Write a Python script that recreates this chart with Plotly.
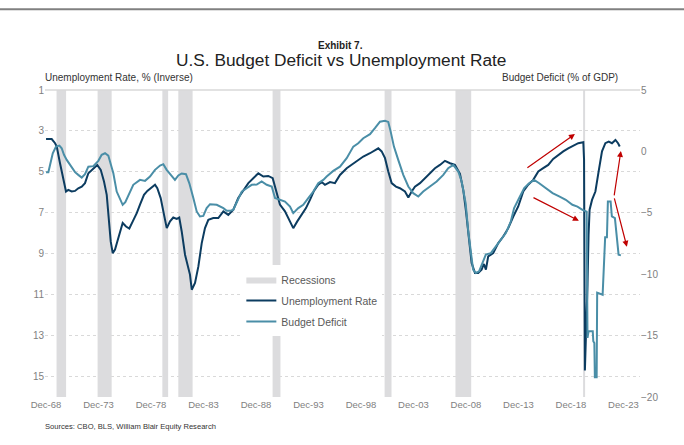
import plotly.graph_objects as go

# ---------------- data (decimal years) ----------------
unemp_years = [1968.92, 1969.46, 1969.78, 1969.94, 1970.25, 1970.5, 1970.82, 1971.04, 1971.36, 1971.68,
               1971.99, 1972.32, 1972.63, 1972.95, 1973.27, 1973.59, 1973.8, 1974.13, 1974.44, 1974.7,
               1974.92, 1975.08, 1975.27, 1975.49, 1975.71, 1975.97, 1976.22, 1976.54, 1976.85, 1977.18,
               1977.56, 1977.87, 1978.25, 1978.57, 1978.99, 1979.3, 1979.52, 1979.84, 1980.16, 1980.42,
               1980.73, 1981.04, 1981.37, 1981.61, 1981.84, 1982.16, 1982.63, 1982.8, 1983.11, 1983.43,
               1983.75, 1984.06, 1984.38, 1984.85, 1985.33, 1985.81, 1986.28, 1986.76, 1987.23, 1987.71,
               1988.19, 1988.66, 1989.14, 1989.62, 1990.09, 1990.51, 1990.82, 1991.2, 1991.68, 1992.09,
               1992.47, 1992.85, 1993.27, 1993.68, 1994.06, 1994.44, 1994.85, 1995.18, 1995.49, 1995.97,
               1996.44, 1996.92, 1997.56, 1998.19, 1998.66, 1999.14, 1999.78, 2000.25, 2000.57, 2000.89,
               2001.21, 2001.52, 2001.84, 2002.25, 2002.63, 2003.11, 2003.43, 2003.75, 2004.06, 2004.54,
               2005.02, 2005.49, 2005.97, 2006.44, 2006.92, 2007.4, 2007.87, 2008.35, 2008.67, 2008.92,
               2009.14, 2009.3, 2009.46, 2009.78, 2010.09, 2010.41, 2010.63, 2010.82, 2011.04, 2011.52,
               2012.0, 2012.47, 2012.95, 2013.43, 2013.9, 2014.38, 2014.85, 2015.33, 2015.81, 2016.28,
               2016.76, 2017.23, 2017.71, 2018.19, 2018.66, 2019.14, 2019.62, 2020.1, 2020.17, 2020.25,
               2020.37, 2020.5, 2020.6, 2020.7, 2020.93, 2021.25, 2021.56, 2021.88, 2022.2, 2022.52,
               2022.83, 2023.16, 2023.41, 2023.57]
unemp_rate = [3.4, 3.4, 3.6, 3.76, 4.58, 5.15, 5.96, 5.88, 5.96, 5.93,
              5.8, 5.72, 5.55, 5.07, 4.9, 4.74, 4.66, 4.9, 5.47, 6.12,
              7.42, 8.4, 8.97, 8.8, 8.4, 7.9, 7.5, 7.67, 7.77, 7.42,
              7.02, 6.6, 6.12, 5.93, 5.76, 5.63, 5.8, 6.28, 7.1, 7.75,
              7.42, 7.23, 7.3, 7.23, 7.9, 9.05, 10.02, 10.76, 10.43, 9.62,
              8.48, 7.75, 7.34, 7.26, 7.26, 6.93, 7.1, 6.85, 6.28, 5.88,
              5.55, 5.31, 5.07, 5.23, 5.2, 5.31, 5.96, 6.6, 6.93, 7.34,
              7.75, 7.42, 7.1, 6.77, 6.37, 5.93, 5.63, 5.5, 5.63, 5.5,
              5.55, 5.15, 4.82, 4.58, 4.41, 4.25, 4.09, 3.93, 3.85, 4.0,
              4.33, 4.98, 5.55, 5.72, 5.8, 5.96, 6.25, 5.96, 5.72, 5.55,
              5.31, 5.07, 4.82, 4.66, 4.46, 4.58, 4.66, 5.1, 5.9, 6.9,
              8.0, 9.0, 9.45, 9.94, 9.94, 9.78, 9.5, 9.78, 9.13, 8.97,
              8.48, 8.16, 7.75, 7.18, 6.69, 5.96, 5.63, 5.39, 4.98, 4.82,
              4.66, 4.37, 4.17, 4.0, 3.85, 3.72, 3.6, 3.55, 4.4, 14.7,
              13.1, 10.5, 8.07, 6.85, 6.37, 5.96, 4.98, 4.0, 3.6, 3.52,
              3.6, 3.44, 3.6, 3.76]

deficit_years = [1968.92, 1969.14, 1969.3, 1969.56, 1969.87, 1970.19, 1970.41, 1970.63, 1970.89, 1971.37,
                 1971.68, 1971.99, 1972.32, 1972.63, 1972.95, 1973.42, 1973.9, 1974.22, 1974.54, 1974.85,
                 1975.08, 1975.33, 1975.65, 1975.97, 1976.22, 1976.47, 1976.76, 1977.23, 1977.87, 1978.35,
                 1978.82, 1979.3, 1979.78, 1980.09, 1980.41, 1980.89, 1981.2, 1981.52, 1981.84, 1982.25,
                 1982.57, 1982.95, 1983.27, 1983.58, 1983.9, 1984.22, 1984.54, 1985.18, 1985.81, 1986.13,
                 1986.44, 1986.76, 1987.08, 1987.56, 1988.03, 1988.51, 1988.99, 1989.46, 1989.94, 1990.42,
                 1990.73, 1991.2, 1991.68, 1992.16, 1992.47, 1992.95, 1993.42, 1993.9, 1994.38, 1994.85,
                 1995.33, 1995.65, 1996.28, 1996.92, 1997.56, 1998.19, 1998.66, 1999.14, 1999.78, 2000.25,
                 2000.73, 2001.21, 2001.52, 2001.75, 2002.06, 2002.47, 2002.95, 2003.43, 2003.9, 2004.38,
                 2004.85, 2005.49, 2006.13, 2006.76, 2007.23, 2007.71, 2008.19, 2008.51, 2008.89, 2009.14,
                 2009.37, 2009.6, 2009.86, 2010.17, 2010.49, 2010.81, 2011.29, 2011.76, 2012.24, 2012.72,
                 2013.19, 2013.51, 2013.99, 2014.47, 2014.94, 2015.42, 2015.9, 2016.54, 2017.17, 2017.8,
                 2018.43, 2019.06, 2019.54, 2020.02, 2020.42, 2020.5, 2020.6, 2021.0, 2021.05, 2021.15,
                 2021.2, 2021.37, 2021.42, 2021.94, 2022.0, 2022.18, 2022.35, 2022.44, 2022.7, 2022.82,
                 2023.11, 2023.27, 2023.46, 2023.68]
deficit_gdp = [-1.69, -1.69, -1.1, -0.15, 0.39, 0.47, 0.26, -0.28, -0.69, -1.24,
               -1.69, -1.91, -2.13, -1.86, -1.24, -1.2, -0.77, -0.28, -0.15, -0.34,
               -1.1, -1.78, -3.27, -3.94, -4.35, -4.13, -3.54, -2.72, -2.32, -2.4,
               -2.05, -1.5, -1.15, -1.04, -1.5, -1.96, -2.32, -1.96, -1.8, -1.86,
               -2.6, -3.8, -4.89, -5.3, -5.25, -4.62, -4.3, -4.35, -4.62, -4.84,
               -4.84, -4.75, -4.21, -3.27, -3.0, -2.72, -2.7, -2.45, -2.72, -2.86,
               -3.8, -3.94, -4.08, -4.49, -5.03, -4.62, -4.35, -3.8, -3.27, -2.59,
               -2.32, -2.05, -1.59, -1.24, -0.55, 0.39, 0.66, 1.07, 1.4, 1.89,
               2.42, 2.5, 2.4, 1.61, 0.39, -0.69, -1.91, -2.86, -3.4, -3.67,
               -3.27, -2.86, -2.45, -1.91, -1.37, -1.1, -1.64, -2.45, -4.21, -6.52,
               -8.14, -9.63, -9.9, -9.77, -9.09, -8.41, -8.28, -7.74, -7.2, -6.65,
               -5.71, -4.62, -3.8, -2.99, -2.59, -2.32, -2.59, -2.99, -3.4, -3.67,
               -3.94, -4.35, -4.49, -4.76, -4.9, -15.19, -14.65, -14.65, -15.46, -15.6,
               -18.39, -18.39, -11.5, -11.67, -10.6, -7.0, -7.0, -4.08, -4.08, -5.3,
               -5.44, -6.8, -8.41, -8.47]

recession_start = [1969.92, 1973.83, 1980.0, 1981.52, 1990.5, 2001.17, 2007.92, 2020.08]
recession_end = [1970.83, 1975.17, 1980.55, 1982.88, 1991.25, 2001.83, 2009.42, 2020.27]

tick_years = [1968, 1973, 1978, 1983, 1988, 1993, 1998, 2003, 2008, 2013, 2018, 2023]
tick_labels = ["Dec-68", "Dec-73", "Dec-78", "Dec-83", "Dec-88", "Dec-93",
               "Dec-98", "Dec-03", "Dec-08", "Dec-13", "Dec-18", "Dec-23"]

left_ticks = [1, 3, 5, 7, 9, 11, 13, 15]
right_ticks = [5, 0, -5, -10, -15, -20]

# arrows: (tail_x, tail_y, head_x, head_y) in years / unemployment units
arrows = [(2014.63, 4.85, 2019.3, 3.15),
          (2015.21, 6.22, 2019.68, 7.39),
          (2023.02, 6.22, 2023.68, 3.98),
          (2023.02, 6.22, 2024.25, 8.66)]

# ---------------- styling ----------------
FONT = "Arial, Liberation Sans, sans-serif"
DARK = "#0c3c60"
TEAL = "#4a8ea7"
GREY_BAND = "#dcdcde"
U_MIN, U_MAX = 1, 16

fig = go.Figure()

# recession bands as filled polygons (one trace for the legend)
bx, by = [], []
for s, e in zip(recession_start, recession_end):
    bx += [s, s, e, e, s, None]
    by += [U_MIN, U_MAX, U_MAX, U_MIN, U_MIN, None]
fig.add_trace(go.Scatter(x=bx, y=by, fill="toself", fillcolor=GREY_BAND, mode="lines",
                         line=dict(width=0, color=GREY_BAND), name="Recessions",
                         legendrank=1, legendgroup="a", hoverinfo="skip"))

fig.add_trace(go.Scatter(x=deficit_years, y=deficit_gdp, mode="lines", yaxis="y2",
                         line=dict(color=TEAL, width=2), name="Budget Deficit",
                         legendrank=3, legendgroup="c"))
fig.add_trace(go.Scatter(x=unemp_years, y=unemp_rate, mode="lines",
                         line=dict(color=DARK, width=2), name="Unemployment Rate",
                         legendrank=2, legendgroup="b"))

fig.update_layout(
    width=684, height=445,
    margin=dict(l=45, r=44, t=90, b=48),
    paper_bgcolor="white", plot_bgcolor="white",
    font=dict(family=FONT, color="#595959"),
    showlegend=True,
    legend=dict(x=0.33, y=0.43, xanchor="left", yanchor="top", bgcolor="white",
                font=dict(size=10.5, color="#595959"), tracegroupgap=2),
    xaxis=dict(range=[1968.82, 2025.5], tickvals=[y + 11 / 12 for y in tick_years],
               ticktext=tick_labels, showgrid=False, zeroline=False, showline=False,
               ticks="", tickfont=dict(size=9.5, color="#7f7f7f")),
    yaxis=dict(range=[U_MAX, U_MIN], tickvals=left_ticks, showgrid=True,
               gridcolor="#d9d9d9", griddash="dot", gridwidth=1, zeroline=False,
               ticks="", tickfont=dict(size=10, color="#7f7f7f")),
    yaxis2=dict(range=[-20, 5], tickvals=right_ticks, overlaying="y", side="right",
                showgrid=False, zeroline=False, ticks="",
                tickfont=dict(size=10, color="#7f7f7f")),
)

annotations = [
    dict(text="<b>Exhibit 7.</b>", x=0.497, y=1.146, xref="paper", yref="paper",
         yanchor="middle", showarrow=False, font=dict(size=10, color="#222222")),
    dict(text="U.S. Budget Deficit vs Unemployment Rate", x=0.497, y=1.0976, xref="paper",
         yref="paper", yanchor="middle", showarrow=False, font=dict(size=17.3, color="#222222")),
    dict(text="Unemployment Rate, % (Inverse)", x=-0.004, y=1.042, xref="paper", yref="paper",
         xanchor="left", yanchor="middle", showarrow=False, font=dict(size=10, color="#333333")),
    dict(text="Budget Deficit (% of GDP)", x=0.967, y=1.042, xref="paper", yref="paper",
         xanchor="right", yanchor="middle", showarrow=False, font=dict(size=10, color="#333333")),
    dict(text="Sources: CBO, BLS, William Blair Equity Research", x=-0.004, y=-0.096,
         xref="paper", yref="paper", xanchor="left", yanchor="middle", showarrow=False,
         font=dict(size=7.6, color="#333333")),
]
for tx, ty, hx, hy in arrows:
    annotations.append(dict(x=hx, y=hy, ax=tx, ay=ty, xref="x", yref="y", axref="x", ayref="y",
                            showarrow=True, arrowhead=2, arrowsize=1, arrowwidth=1.2,
                            arrowcolor="#c00000", text=""))
fig.update_layout(annotations=annotations)

fig.update_layout(shapes=[
    dict(type="line", xref="paper", yref="paper", x0=0, x1=1, y0=1, y1=1,
         line=dict(color="#d9d9d9", width=1.5)),
    dict(type="line", xref="paper", yref="paper", x0=-0.08, x1=1.08, y0=1.2634, y1=1.2634,
         line=dict(color="#808080", width=2)),
])

fig.write_html("out.html")
